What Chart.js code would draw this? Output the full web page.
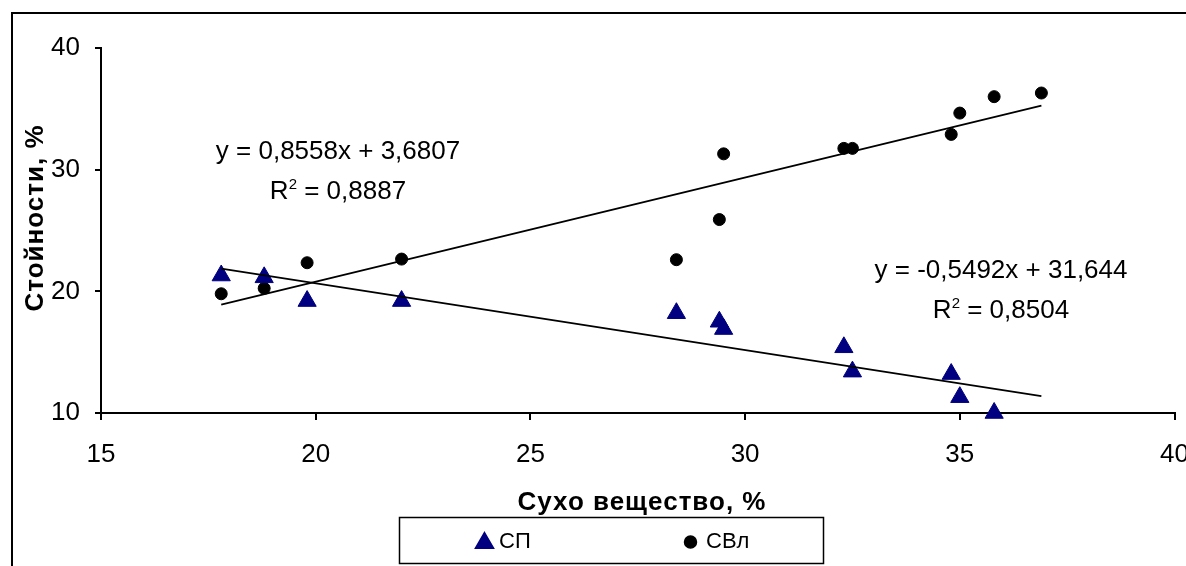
<!DOCTYPE html>
<html>
<head>
<meta charset="utf-8">
<script src="https://cdn.jsdelivr.net/npm/chart.js@4.4.1/dist/chart.umd.min.js"></script>
<style>
  html, body { margin: 0; padding: 0; background: #fff; }
  #wrap { position: relative; width: 1186px; height: 566px; }
</style>
</head>
<body>
<div id="wrap"><canvas id="chart" width="1186" height="566"></canvas></div>
<script>
// Series names
const seriesNames = ['СП', 'СВл'];

// СП (triangles)
const spX = [17.8, 18.8, 19.8, 22.0, 28.4, 29.4, 29.5, 32.3, 32.5, 34.8, 35.0, 35.8];
const spY = [21.3, 21.15, 19.2, 19.2, 18.2, 17.5, 16.9, 15.4, 13.4, 13.2, 11.3, 10.0];

// СВл (dots)
const svlX = [17.8, 18.8, 19.8, 22.0, 28.4, 29.4, 29.5, 32.3, 32.5, 34.8, 35.0, 35.8, 36.9];
const svlY = [19.8, 20.25, 22.35, 22.65, 22.6, 25.9, 31.3, 31.75, 31.75, 32.9, 34.65, 36.0, 36.3];

// Linear trend lines as printed on the chart: [СП, СВл]
const trendSlope = [-0.5492, 0.8558];
const trendIntercept = [31.644, 3.6807];
const trendR2 = [0.8504, 0.8887];

// Axis ticks
const xTicks = [15, 20, 25, 30, 35, 40];
const yTicks = [10, 20, 30, 40];

const xTitle = 'Сухо вещество, %';
const yTitle = 'Стойности, %';

const FONT = '"Liberation Sans", Arial, sans-serif';
const toPoints = (xs, ys) => xs.map((x, i) => ({ x: x, y: ys[i] }));
const comma = (v) => String(v).replace('.', ',');

// trend lines span the shared x range of the measurements
const xFrom = Math.min(...svlX);
const xTo = Math.max(...svlX);
const trendPoints = (k) => [
  { x: xFrom, y: trendSlope[k] * xFrom + trendIntercept[k] },
  { x: xTo, y: trendSlope[k] * xTo + trendIntercept[k] }
];

// equation label placement (centre x, baseline of each line)
const eqPos = [{ x: 1001, y: 278, y2: 318 }, { x: 338, y: 159, y2: 199 }];

const overlay = {
  id: 'overlay',
  beforeDraw(chart) {
    const ctx = chart.ctx;
    ctx.save();
    ctx.fillStyle = '#fff';
    ctx.fillRect(0, 0, chart.width, chart.height);
    // outer frame of the chart object
    ctx.strokeStyle = '#000';
    ctx.lineWidth = 2;
    ctx.beginPath();
    ctx.moveTo(12, chart.height);
    ctx.lineTo(12, 13);
    ctx.lineTo(chart.width, 13);
    ctx.stroke();
    ctx.restore();
  },
  afterDraw(chart) {
    const ctx = chart.ctx;
    ctx.save();
    ctx.fillStyle = '#000';

    // axis titles
    ctx.font = 'bold 26px ' + FONT;
    ctx.letterSpacing = '1px';
    ctx.textAlign = 'center';
    ctx.textBaseline = 'alphabetic';
    ctx.fillText(xTitle, 642, 510);
    ctx.save();
    ctx.translate(43, 218);
    ctx.rotate(-Math.PI / 2);
    ctx.fillText(yTitle, 0, 0);
    ctx.restore();
    ctx.letterSpacing = '0px';

    // trend equations, each line centred
    ctx.textAlign = 'left';
    for (let k = 0; k < 2; k++) {
      ctx.font = '26px ' + FONT;
      const sign = trendIntercept[k] >= 0 ? ' + ' : ' - ';
      const line1 = 'y = ' + comma(trendSlope[k]) + 'x' + sign + comma(Math.abs(trendIntercept[k]));
      const w1 = ctx.measureText(line1).width;
      ctx.fillText(line1, eqPos[k].x - w1 / 2, eqPos[k].y);

      const rest = ' = ' + comma(trendR2[k]);
      const wR = ctx.measureText('R').width;
      const wRest = ctx.measureText(rest).width;
      ctx.font = '15px ' + FONT;
      const w2 = ctx.measureText('2').width;
      let x = eqPos[k].x - (wR + w2 + wRest) / 2;
      const y = eqPos[k].y2;
      ctx.font = '26px ' + FONT;
      ctx.fillText('R', x, y);
      x += wR;
      ctx.font = '15px ' + FONT;
      ctx.fillText('2', x, y - 10);
      x += w2;
      ctx.font = '26px ' + FONT;
      ctx.fillText(rest, x, y);
    }

    // legend box
    ctx.strokeStyle = '#000';
    ctx.lineWidth = 1.5;
    ctx.strokeRect(399.5, 517.5, 424, 46);
    ctx.font = '22px ' + FONT;
    const metas = [chart.getDatasetMeta(2), chart.getDatasetMeta(3)];
    const legendX = [484.5, 690.5];
    const textX = [499, 706];
    metas.forEach((m, i) => {
      const ds = chart.data.datasets[m.index];
      ctx.fillStyle = ds.backgroundColor;
      ctx.strokeStyle = ds.borderColor;
      Chart.helpers.drawPoint(ctx, {
        pointStyle: ds.pointStyle,
        radius: ds.pointRadius,
        borderWidth: 1,
        rotation: 0
      }, legendX[i], i === 0 ? 543 : 542);
      ctx.fillStyle = '#000';
      ctx.fillText(ds.label, textX[i], 548);
    });
    ctx.restore();
  }
};

new Chart(document.getElementById('chart'), {
  type: 'scatter',
  data: {
    datasets: [
      {
        label: 'trend ' + seriesNames[0],
        type: 'line',
        data: trendPoints(0),
        borderColor: '#000',
        borderWidth: 1.8,
        pointRadius: 0,
        fill: false,
        order: 0
      },
      {
        label: 'trend ' + seriesNames[1],
        type: 'line',
        data: trendPoints(1),
        borderColor: '#000',
        borderWidth: 1.8,
        pointRadius: 0,
        fill: false,
        order: 0
      },
      {
        label: seriesNames[0],
        data: toPoints(spX, spY),
        pointStyle: 'triangle',
        pointRadius: 10.5,
        backgroundColor: '#000080',
        borderColor: '#000080',
        borderWidth: 1,
        clip: false,
        order: 1
      },
      {
        label: seriesNames[1],
        data: toPoints(svlX, svlY),
        pointStyle: 'circle',
        pointRadius: 6,
        backgroundColor: '#000',
        borderColor: '#000',
        borderWidth: 1,
        clip: false,
        order: 1
      }
    ]
  },
  options: {
    responsive: false,
    animation: false,
    layout: { padding: { left: 0, right: 10, top: 48, bottom: 0 } },
    plugins: {
      legend: { display: false },
      tooltip: { enabled: false }
    },
    scales: {
      x: {
        type: 'linear',
        min: 15,
        max: 40,
        afterBuildTicks: (s) => { s.ticks = xTicks.map(v => ({ value: v })); },
        afterFit: (s) => { s.height = 153; s.paddingLeft = 0; s.paddingRight = 0; },
        border: { color: '#000', width: 2 },
        grid: { drawOnChartArea: false, drawTicks: true, tickLength: 7, color: '#000', lineWidth: 2 },
        ticks: { color: '#000', padding: 19, maxRotation: 0, font: { family: FONT, size: 26 } }
      },
      y: {
        type: 'linear',
        min: 10,
        max: 40,
        afterBuildTicks: (s) => { s.ticks = yTicks.map(v => ({ value: v })); },
        afterFit: (s) => { s.width = 101; s.paddingTop = 0; s.paddingBottom = 0; },
        border: { color: '#000', width: 2 },
        grid: { drawOnChartArea: false, drawTicks: true, tickLength: 6, color: '#000', lineWidth: 2 },
        ticks: { color: '#000', padding: 15, font: { family: FONT, size: 26 } }
      }
    }
  },
  plugins: [overlay]
});
</script>
</body>
</html>
